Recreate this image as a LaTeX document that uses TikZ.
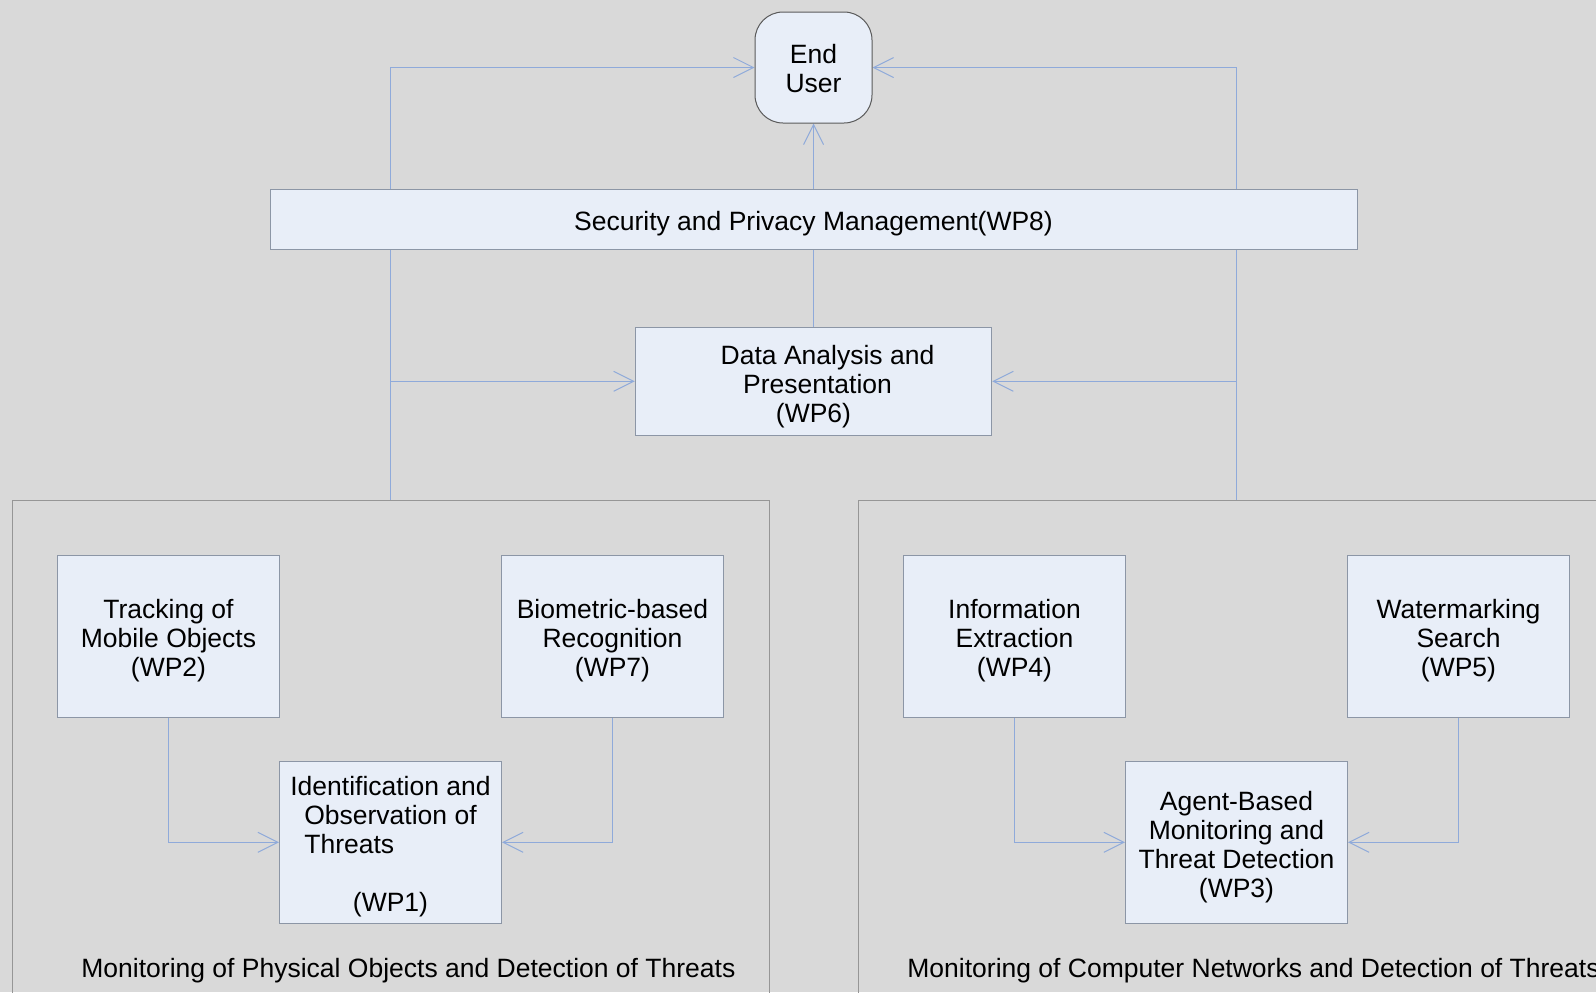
\documentclass[tikz,border=0pt]{standalone}
\usepackage{fontspec}
\setmainfont{Liberation Sans}
\usepackage{calc}
\usetikzlibrary{arrows.meta,backgrounds}

\definecolor{bggray}{RGB}{217,217,217}
\definecolor{boxfill}{RGB}{232,238,248}
\definecolor{boxline}{RGB}{140,150,166}
\definecolor{userline}{RGB}{90,90,90}
\definecolor{connblue}{RGB}{143,170,218}
\definecolor{groupline}{RGB}{150,150,150}

\newcommand{\wpfont}{\fontsize{13.25}{14.5}\selectfont}
\newcommand{\wpstrut}[1][14pt]{\rule{0pt}{#1}}

\tikzset{
	wpbox/.style={draw=boxline, fill=boxfill, line width=0.5pt, inner sep=0pt, align=center,
		minimum width=111pt, minimum height=81pt, font=\wpfont},
	conn/.style={draw=connblue, line width=0.5pt, -{Straight Barb[length=10pt,width=10pt]}},
	group/.style={draw=groupline, line width=0.5pt},
	grouplabel/.style={anchor=west, inner sep=0pt, font=\wpfont},
}

\begin{document}
\begin{tikzpicture}[
		x=0.5pt,
		y={(0pt,-0.5pt)},
	]
		\useasboundingbox (0,0) rectangle (1596,992);
		
		% top part
		\node[wpbox, draw=userline, rounded corners=14pt, minimum width=58.5pt, minimum height=55.5pt] (user) at (813.5,67.5) {\wpstrut[11pt]End\\User};
		\node[wpbox, minimum width=543.5pt, minimum height=30pt] (wp8) at (813.5,219.3) {\wpstrut[13.5pt]Security and Privacy Management(WP8)};
		\node[wpbox, minimum width=178.2pt, minimum height=54pt] (wp6) at (813.5,381.3) {\wpstrut[15pt]\hspace*{14pt}Data Analysis and\\\hspace*{4pt}Presentation\\(WP6)};
		
		% groups
		\draw[group] (12.3,1000) -- (12.3,500.3) -- (769,500.3) -- (769,1000);
		\draw[group] (858.3,1000) -- (858.3,500.3) -- (1600,500.3);
		\coordinate (lefttop) at (390.5,500.3);
		\coordinate (righttop) at (1236.5,500.3);
		\node[grouplabel] (physlabel) at (81,971) {Monitoring of Physical Objects and Detection of Threats};
		\node[grouplabel] (netlabel) at (907,971) {Monitoring of Computer Networks and Detection of Threats};
		
		% work packages
		\node[wpbox] (wp2) at (168.5,636.3) {\wpstrut Tracking of\\Mobile Objects\\(WP2)};
		\node[wpbox] (wp7) at (612.5,636.3) {\wpstrut Biometric-based\\Recognition\\(WP7)};
		\node[wpbox] (wp1) at (390.5,842.3) {\wpstrut Identification and\\Observation of\\\makebox[\widthof{Observation of}][l]{Threats}\\\mbox{}\\(WP1)};
		\node[wpbox] (wp4) at (1014.5,636.3) {\wpstrut Information\\Extraction\\(WP4)};
		\node[wpbox] (wp5) at (1458.5,636.3) {\wpstrut Watermarking\\Search\\(WP5)};
		\node[wpbox] (wp3) at (1236.5,842.3) {\wpstrut Agent-Based\\Monitoring and\\Threat Detection\\(WP3)};
		
		\begin{scope}[on background layer]
			\fill[bggray] (0,0) rectangle (1596,992);
			% connectors
			\draw[conn] (lefttop) |- (user.west);
			\draw[conn] (lefttop) |- (wp6.west);
			\draw[conn] (righttop) |- (user.east);
			\draw[conn] (righttop) |- (wp6.east);
			\draw[conn] (wp6.north) -- (user.south);
			\draw[conn] (wp2.south) |- (wp1.west);
			\draw[conn] (wp7.south) |- (wp1.east);
			\draw[conn] (wp4.south) |- (wp3.west);
			\draw[conn] (wp5.south) |- (wp3.east);
		\end{scope}
	\end{tikzpicture}
\end{document}
